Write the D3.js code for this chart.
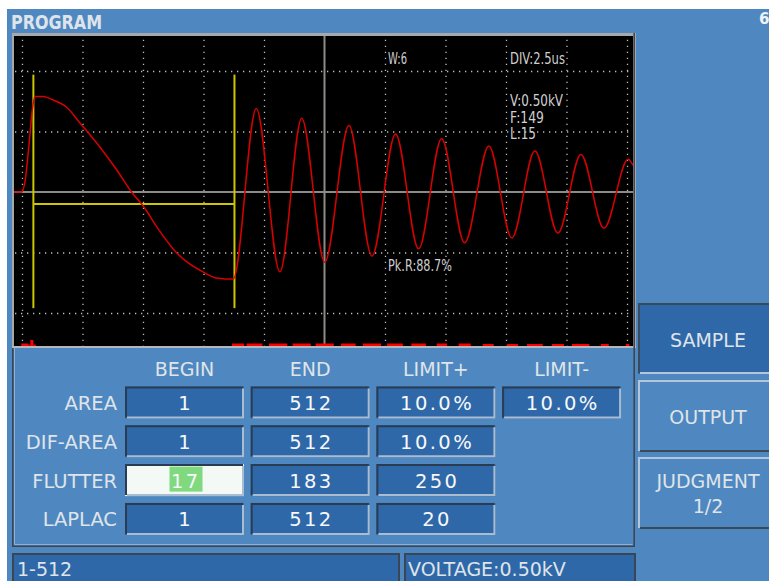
<!DOCTYPE html>
<html><head><meta charset="utf-8">
<script src="https://cdn.jsdelivr.net/npm/d3@7"></script>
<style>
html,body{margin:0;padding:0;background:#fff;overflow:hidden;}
svg{display:block;}
text{font-family:"DejaVu Sans",sans-serif;}
</style></head><body>
<svg id="c" width="769" height="581"></svg>
<script>
// ---------------- data ----------------
const titleText = "PROGRAM";
// waveform: sample index (1..512) and voltage in kV
const sampleIdx = [1, 7, 10, 13, 16.4, 18.3, 25, 33.4, 44.5, 55.5,
  72, 86, 98, 108, 119, 135, 144, 157, 168, 182,
  201, 220.5, 238.5, 257.5, 277.5, 296.5, 316, 335, 354, 373,
  393, 412, 431, 450, 469, 488, 508, 512];
const waveKV = [0, 0, 0.08, 0.35, 0.70, 0.79, 0.79, 0.76, 0.70, 0.57,
  0.37, 0.18, 0, -0.12, -0.29, -0.50, -0.58, -0.66, -0.71, -0.72,
  0.69, -0.66, 0.61, -0.58, 0.55, -0.53, 0.48, -0.47, 0.44, -0.42,
  0.38, -0.38, 0.34, -0.34, 0.31, -0.30, 0.27, 0.22];
// difference trace at the bottom of the screen (segments)
const difStart = [7, 13, 14.5, 17, 181, 193, 211.5, 231, 250, 271, 289, 309, 329, 350, 368, 388, 408, 424.5, 445, 461.5, 485.5, 506];
const difEnd   = [13, 14.5, 17, 19, 191, 206, 226.5, 246, 265, 283, 304, 322, 341, 358.5, 378, 397, 417, 437.5, 455, 476, 492, 509];
const difLevel = [2.5, 1.5, 6, 1.5, 2.5, 2.5, 2.5, 2.5, 2.5, 2.5, 2.5, 2.5, 2.5, 2.5, 2.5, 2, 2, 2, 2, 2, 2, 2];
// flutter window markers
const flutterWindow = [17, 183];
const markerSpanKV = [-0.96, 0.97];
const markerLevelKV = -0.10;
// grid divisions
const divTimes = [0, 2.5, 5, 7.5, 10, 12.5, 15, 17.5, 20, 22.5, 25];
const divVolts = [-1.0, -0.5, 0, 0.5, 1.0];
// on-screen readouts
const readW = "W:6", readDiv = "DIV:2.5us", readV = "V:0.50kV", readF = "F:149", readL = "L:15", readPk = "Pk.R:88.7%";
// table
const columnHeaders = ["BEGIN", "END", "LIMIT+", "LIMIT-"];
const rowLabels = ["AREA", "DIF-AREA", "FLUTTER", "LAPLAC"];
const beginValues = ["1", "1", "17", "1"];
const endValues = ["512", "512", "183", "512"];
const limitPlusValues = ["10.0%", "10.0%", "250", "20"];
const limitMinusValues = ["10.0%", null, null, null];
const buttonLabels = [["SAMPLE"], ["OUTPUT"], ["JUDGMENT", "1/2"]];
const statusLeft = "1-512", statusRight = "VOLTAGE:0.50kV";

// ---------------- drawing ----------------
const BLUE = "#4f88c0", DARK = "#2f68a8", TXT = "#dfe4ea";
const svg = d3.select("#c");
svg.append("rect").attr("width", 769).attr("height", 581).attr("fill", "#fff");
svg.append("rect").attr("x", 7).attr("y", 9).attr("width", 762).attr("height", 572).attr("fill", BLUE);
svg.append("text").attr("x", 11).attr("y", 29).attr("font-size", 20).attr("font-weight", "bold").attr("fill", TXT)
  .attr("textLength", 91).attr("lengthAdjust", "spacingAndGlyphs").text(titleText);
svg.append("text").attr("x", 759).attr("y", 24).attr("font-size", 15).attr("font-weight", "bold").attr("fill", "#eef2f6").text("6");

// scope frame
const P = {l: 14, t: 36, r: 633, b: 346};
svg.append("rect").attr("x", 12).attr("y", 33).attr("width", 624).attr("height", 315).attr("fill", "#a6a8aa");
svg.append("rect").attr("x", P.l).attr("y", P.t).attr("width", P.r - P.l).attr("height", P.b - P.t).attr("fill", "#000");

const xS = d3.scaleLinear().domain([1, 512]).range([P.l, P.r]);
const tS = d3.scaleLinear().domain([0, 25]).range([22, 627]);
const yS = d3.scaleLinear().domain([-1, 1]).range([313, 71]);
const dS = d3.scaleLinear().domain([0, 10]).range([P.b, P.b - 10]);

svg.append("clipPath").attr("id", "clip").append("rect")
  .attr("x", P.l).attr("y", P.t).attr("width", P.r - P.l).attr("height", P.b - P.t);

// dotted grid through axes
const gx = svg.append("g").attr("transform", `translate(0,${P.b})`)
  .call(d3.axisBottom(tS).tickValues(divTimes.filter(t => t !== 12.5)).tickSize(-(P.b - P.t)).tickFormat(""));
gx.select(".domain").remove();
gx.selectAll(".tick line").attr("stroke", "#bdbdbd").attr("stroke-width", 1.3).attr("stroke-dasharray", "1.3,4.7").attr("stroke-dashoffset", 1);
const gy = svg.append("g").attr("transform", `translate(${P.l},0)`)
  .call(d3.axisLeft(yS).tickValues(divVolts.filter(v => v !== 0)).tickSize(-(P.r - P.l)).tickFormat(""));
gy.select(".domain").remove();
gy.selectAll(".tick line").attr("stroke", "#bdbdbd").attr("stroke-width", 1.3).attr("stroke-dasharray", "1.3,4.7").attr("stroke-dashoffset", -1);
// center lines
svg.append("line").attr("x1", P.l).attr("x2", P.r).attr("y1", yS(0)).attr("y2", yS(0)).attr("stroke", "#8c8c86").attr("stroke-width", 2);
svg.append("line").attr("x1", tS(12.5)).attr("x2", tS(12.5)).attr("y1", P.t).attr("y2", P.b).attr("stroke", "#8c8c86").attr("stroke-width", 2);

// readouts
function readout(x, y, s, len) {
  svg.append("text").attr("x", x).attr("y", y).attr("font-size", 15).attr("fill", "#cfcfcf")
    .attr("textLength", len).attr("lengthAdjust", "spacingAndGlyphs").text(s);
}
readout(388, 64, readW, 19);
readout(510, 64, readDiv, 55);
readout(510, 106, readV, 53);
readout(510, 122.5, readF, 34);
readout(510, 139, readL, 26);
readout(388, 271, readPk, 64);

const plotG = svg.append("g").attr("clip-path", "url(#clip)");
// flutter markers (yellow)
const YEL = "#cbc600";
flutterWindow.forEach(s => {
  plotG.append("line").attr("x1", xS(s)).attr("x2", xS(s)).attr("y1", yS(markerSpanKV[1])).attr("y2", yS(markerSpanKV[0]))
    .attr("stroke", YEL).attr("stroke-width", 2);
});
plotG.append("line").attr("x1", xS(flutterWindow[0])).attr("x2", xS(flutterWindow[1]))
  .attr("y1", yS(markerLevelKV)).attr("y2", yS(markerLevelKV)).attr("stroke", YEL).attr("stroke-width", 2);

// waveform
const wave = sampleIdx.map((s, i) => [s, waveKV[i]]);
plotG.append("path").datum(wave)
  .attr("d", d3.line().x(d => xS(d[0])).y(d => yS(d[1])).curve(d3.curveMonotoneX))
  .attr("fill", "none").attr("stroke", "#d80000").attr("stroke-width", 1.5);
// difference trace
plotG.selectAll("rect.dif").data(difStart).enter().append("rect").attr("class", "dif")
  .attr("x", (d, i) => xS(d)).attr("width", (d, i) => xS(difEnd[i]) - xS(d))
  .attr("y", (d, i) => dS(difLevel[i])).attr("height", (d, i) => dS(0) - dS(difLevel[i]))
  .attr("fill", "#ff0000");

// lower separator under scope
svg.append("rect").attr("x", 12).attr("y", 346).attr("width", 624).attr("height", 2).attr("fill", "#b4b8bc");
// lower panel border
svg.append("path").attr("d", "M12.8,348V546.2H634.2V33").attr("fill", "none").attr("stroke", "#3d4650").attr("stroke-width", 1.6);
svg.append("path").attr("d", "M14.5,348V544.5H632.5").attr("fill", "none").attr("stroke", "#8fb0d2").attr("stroke-width", 1);

// field box
function field(x, y, w, h, fill) {
  svg.append("rect").attr("x", x).attr("y", y).attr("width", w).attr("height", h).attr("fill", fill);
  svg.append("path").attr("d", `M${x + 1},${y + h - 1}V${y + 1}H${x + w - 1}`).attr("stroke", "#2a3c52").attr("stroke-width", 2).attr("fill", "none");
  svg.append("path").attr("d", `M${x + 2},${y + h - 1}H${x + w - 1}V${y + 2}`).attr("stroke", "#a9bcd0").attr("stroke-width", 2).attr("fill", "none");
}

const colX = d => 125 + d * 125.7, colW = 119, rowTop = i => 386.5 + i * 38.8, rowH = 32;
columnHeaders.forEach((h, j) => {
  svg.append("text").attr("x", colX(j) + colW / 2).attr("y", 376).attr("text-anchor", "middle")
    .attr("font-size", 19).attr("fill", TXT).text(h);
});
rowLabels.forEach((r, i) => {
  svg.append("text").attr("x", 117).attr("y", rowTop(i) + 23.5).attr("text-anchor", "end")
    .attr("font-size", 19.5).attr("fill", TXT).text(r);
});
const cols = [beginValues, endValues, limitPlusValues, limitMinusValues];
cols.forEach((vals, j) => {
  vals.forEach((v, i) => {
    if (v === null) return;
    const active = (j === 0 && i === 2);
    field(colX(j), rowTop(i), colW, rowH, active ? "#f3f9f5" : DARK);
    if (active) {
      svg.append("rect").attr("x", colX(j) + colW / 2 - 15).attr("y", rowTop(i) + 2.5)
        .attr("width", 33).attr("height", 25).attr("fill", "#80d97f");
    }
    svg.append("text").attr("x", colX(j) + colW / 2 + 1.2).attr("y", rowTop(i) + 23.5).attr("text-anchor", "middle")
      .attr("font-size", 19.5).attr("letter-spacing", 2.4).attr("fill", "#f6f8fa").text(v);
  });
});

// status bar
function statusBox(x, w) {
  svg.append("rect").attr("x", x).attr("y", 553).attr("width", w).attr("height", 28).attr("fill", DARK);
  svg.append("path").attr("d", `M${x + 1},581V${554}H${x + w - 1}V581`).attr("stroke", "#3a4654").attr("stroke-width", 2).attr("fill", "none");
}
statusBox(12, 388);
statusBox(404, 232);
svg.append("text").attr("x", 17).attr("y", 576).attr("font-size", 19).attr("fill", TXT).text(statusLeft);
svg.append("text").attr("x", 408).attr("y", 576).attr("font-size", 19).attr("fill", TXT).text(statusRight);

// right buttons
const btnTop = [303, 380, 457], btnH = [71, 72, 72];
buttonLabels.forEach((lines, k) => {
  const x = 638, y = btnTop[k], w = 131, h = btnH[k];
  const sel = k === 0;
  svg.append("rect").attr("x", x).attr("y", y).attr("width", w).attr("height", h).attr("fill", sel ? DARK : BLUE);
  svg.append("path").attr("d", `M${x + 1},${y + h - 1}V${y + 1}H${x + w}`).attr("stroke", sel ? "#3b4a5a" : "#b3c6da").attr("stroke-width", 2).attr("fill", "none");
  svg.append("path").attr("d", `M${x + 2},${y + h - 1}H${x + w}`).attr("stroke", sel ? "#b3c6da" : "#3b4a5a").attr("stroke-width", 2).attr("fill", "none");
  const cy = y + h / 2;
  lines.forEach((s, m) => {
    const off = lines.length === 1 ? 8 : (m === 0 ? -5 : 20);
    svg.append("text").attr("x", x + 70).attr("y", cy + off).attr("text-anchor", "middle")
      .attr("font-size", 19).attr("fill", TXT).text(s);
  });
});
</script>
</body></html>
